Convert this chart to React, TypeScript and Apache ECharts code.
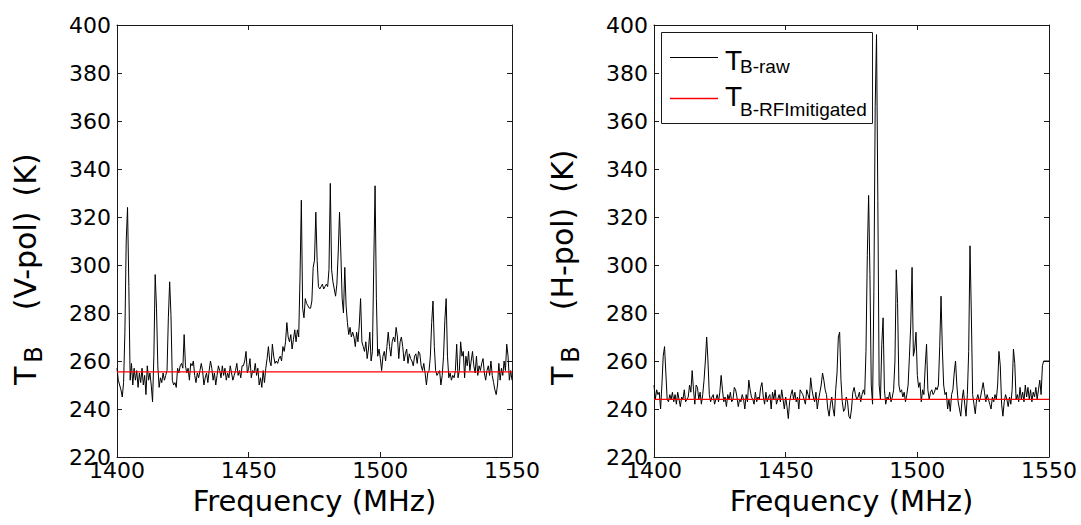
import React, { useEffect, useRef } from 'react';
import * as echarts from 'echarts';

const FREQ_START = 1400;
const FREQ_STEP = 0.5;
const X_MIN = 1400;
const X_MAX = 1550;
const X_INTERVAL = 50;
const Y_MIN = 220;
const Y_MAX = 400;
const Y_INTERVAL = 20;

// V-pol raw brightness temperature (K), 0.5 MHz steps from 1400 MHz
const vpolRaw = [
  257, 252, 250, 248, 245, 251, 272, 310, 324, 291,
  252, 259, 250, 257, 252, 256, 249, 255, 251, 257,
  250, 254, 246, 258, 252, 255, 250, 243, 262, 296,
  282, 258, 249, 253, 251, 255, 252, 254, 256, 278,
  293, 279, 252, 250, 251, 249, 257, 255, 258, 259,
  257, 271, 258, 255, 257, 252, 259, 258, 260, 254,
  251, 255, 253, 256, 259, 256, 250, 253, 255, 251,
  256, 260, 257, 252, 255, 250, 254, 258, 256, 253,
  258, 254, 257, 252, 255, 253, 258, 255, 252, 254,
  256, 259, 254, 256, 253, 258, 258, 260, 264, 255,
  257, 261, 253, 256, 255, 259, 254, 257, 250, 253,
  249, 256, 251, 257, 261, 266, 260, 258, 267, 262,
  259, 260, 259, 261, 262, 260, 266, 264, 268, 276,
  270, 268, 271, 265, 269, 273, 268, 273, 270, 295,
  327, 282, 278, 286, 284, 283, 282, 282, 285, 299,
  302, 322, 302, 291, 290, 291, 292, 290, 291, 292,
  291, 298, 334, 298, 293, 290, 287, 292, 305, 322,
  305, 286, 280, 299, 283, 276, 271, 274, 270, 272,
  270, 266, 272, 268, 275, 286, 268, 266, 264, 268,
  261, 265, 272, 260, 264, 300, 333, 286, 262, 265,
  261, 256, 262, 264, 260, 266, 272, 266, 262, 268,
  270, 268, 274, 270, 261, 268, 270, 266, 260, 263,
  265, 259, 263, 261, 260, 258, 262, 263, 259, 264,
  263, 258, 256, 259, 255, 250, 255, 256, 262, 276,
  285, 266, 256, 254, 255, 256, 250, 254, 262, 277,
  286, 262, 253, 255, 252, 254, 253, 256, 267, 253,
  256, 268, 262, 264, 253, 262, 258, 264, 256, 260,
  264, 258, 255, 262, 254, 258, 256, 259, 261, 255,
  252, 256, 258, 254, 260, 254, 251, 248, 246, 250,
  259, 252, 257, 254, 260, 256, 267, 262, 252, 256,
  252,
];

// H-pol raw brightness temperature (K), 0.5 MHz steps from 1400 MHz
const hpolRaw = [
  250, 244, 248, 246, 247, 240, 250, 262, 266, 255,
  244, 243, 246, 244, 247, 243, 246, 242, 247, 244,
  241, 245, 244, 248, 243, 244, 245, 250, 247, 256,
  248, 242, 250, 249, 244, 247, 242, 246, 252, 260,
  270, 260, 246, 243, 245, 246, 242, 244, 246, 243,
  247, 254, 248, 243, 245, 241, 246, 244, 247, 243,
  244, 249, 248, 245, 241, 244, 243, 246, 244, 240,
  246, 243, 252, 248, 245, 244, 242, 247, 243, 245,
  244, 249, 251, 245, 242, 247, 243, 245, 246, 240,
  247, 244, 248, 242, 244, 246, 243, 248, 244, 240,
  245, 241, 236, 243, 246, 248, 244, 247, 243, 245,
  240, 248, 247, 246, 244, 242, 248, 246, 244, 253,
  248, 245, 243, 247, 240, 244, 247, 250, 255, 252,
  248, 246, 240, 237, 242, 245, 240, 237, 248, 255,
  270, 272, 252, 243, 239, 240, 245, 243, 237, 236,
  240, 247, 249, 246, 244, 245, 247, 243, 246, 248,
  246, 264, 304, 329, 296, 250, 242, 289, 366, 396,
  327, 250, 244, 267, 278, 248, 242, 245, 244, 247,
  243, 245, 248, 260, 298, 284, 250, 247, 248, 245,
  247, 243, 246, 250, 262, 275, 299, 262, 265, 272,
  254, 249, 251, 243, 248, 246, 258, 267, 248, 244,
  247, 248, 246, 247, 249, 248, 250, 266, 287, 265,
  250, 246, 247, 240, 244, 239, 246, 248, 255, 260,
  250, 243, 240, 237, 244, 248, 242, 237, 246, 264,
  308, 280, 246, 242, 238, 244, 246, 243, 245, 248,
  251, 247, 243, 246, 244, 242, 240, 245, 243, 246,
  244, 250, 264, 258, 242, 237, 243, 246, 244, 241,
  245, 242, 248, 265, 259, 244, 246, 243, 249, 244,
  247, 243, 250, 245, 249, 244, 248, 243, 247, 245,
  249, 244, 248, 252, 246, 258, 260, 260, 260, 260,
  260,
];

const mitigatedFreqs = [1400, 1550];
const vpolMitigated = [255.5, 255.5];
const hpolMitigated = [244, 244];

const yTitlePol = ['(V-pol)', '(H-pol)'];
const yTitleUnit = '(K)';
const legendNames = ['B-raw', 'B-RFImitigated'];

const TICK_FONT = 'DejaVu Sans';
const LEG_FONT = 'Liberation Sans';
const AXIS_COLOR = '#1a1a1a';

function toPairs(vals: number[]) {
  return vals.map((v, i) => [FREQ_START + i * FREQ_STEP, v]);
}

function App() {
  const ref = useRef<HTMLDivElement>(null);
  useEffect(() => {
    if (!ref.current) return;
    const chart = echarts.init(ref.current, null, { renderer: 'svg' });
    const grids = [
      { left: 117, top: 25, width: 395, height: 432 },
      { left: 654, top: 25, width: 395, height: 432 },
    ];
    const xAxes: any[] = [];
    const yAxes: any[] = [];
    grids.forEach((_, gi) => {
      const common = {
        type: 'value',
        gridIndex: gi,
        min: X_MIN,
        max: X_MAX,
        interval: X_INTERVAL,
        splitLine: { show: false },
        axisLine: { show: true, onZero: false, lineStyle: { color: AXIS_COLOR, width: 1 } },
        axisTick: { show: true, inside: true, length: 5, lineStyle: { color: AXIS_COLOR } },
      };
      xAxes.push({
        ...common,
        position: 'bottom',
        axisLabel: {
          show: true,
          color: '#000',
          fontFamily: TICK_FONT,
          fontSize: 22,
          margin: 2,
          formatter: (v: number) => String(v),
        },
        name: 'Frequency (MHz)',
        nameLocation: 'middle',
        nameGap: 29,
        nameTextStyle: { color: '#000', fontFamily: TICK_FONT, fontSize: 29 },
      });
      xAxes.push({ ...common, position: 'top', axisLabel: { show: false } });
      const ycommon = {
        type: 'value',
        gridIndex: gi,
        min: Y_MIN,
        max: Y_MAX,
        interval: Y_INTERVAL,
        splitLine: { show: false },
        axisLine: { show: true, onZero: false, lineStyle: { color: AXIS_COLOR, width: 1 } },
        axisTick: { show: true, inside: true, length: 5, lineStyle: { color: AXIS_COLOR } },
      };
      yAxes.push({
        ...ycommon,
        position: 'left',
        axisLabel: {
          show: true,
          color: '#000',
          fontFamily: TICK_FONT,
          fontSize: 22,
          margin: 6,
          formatter: (v: number) => String(v),
        },
      });
      yAxes.push({ ...ycommon, position: 'right', axisLabel: { show: false } });
    });

    const rawSets = [vpolRaw, hpolRaw];
    const mitSets = [vpolMitigated, hpolMitigated];
    const series: any[] = [];
    rawSets.forEach((vals, gi) => {
      series.push({
        type: 'line',
        name: 'raw' + gi,
        xAxisIndex: gi * 2,
        yAxisIndex: gi * 2,
        data: toPairs(vals),
        showSymbol: false,
        symbol: 'none',
        lineStyle: { color: '#000', width: 1 },
        z: 2,
      });
      series.push({
        type: 'line',
        name: 'mit' + gi,
        xAxisIndex: gi * 2,
        yAxisIndex: gi * 2,
        data: mitigatedFreqs.map((f, i) => [f, mitSets[gi][i]]),
        showSymbol: false,
        symbol: 'none',
        lineStyle: { color: '#ff0000', width: 1.3 },
        z: 3,
      });
    });

    const yTitleGraphics = yTitlePol.map((pol, gi) => ({
      type: 'text',
      x: gi === 0 ? 25 : 562,
      y: 385,
      rotation: Math.PI / 2,
      style: {
        text: `{t|T}{s|B}{r|${pol}}{k|${yTitleUnit}}`,
        align: 'left',
        verticalAlign: 'middle',
        fill: '#000',
        rich: {
          t: { fontFamily: TICK_FONT, fontSize: 30, fill: '#000', color: '#000' },
          s: {
            fontFamily: TICK_FONT,
            fontSize: 24,
            padding: [18, 36, 0, 4],
            fill: '#000',
            color: '#000',
          },
          r: { fontFamily: TICK_FONT, fontSize: 30, fill: '#000', color: '#000' },
          k: {
            fontFamily: TICK_FONT,
            fontSize: 30,
            padding: [0, 0, 0, 15],
            fill: '#000',
            color: '#000',
          },
        },
      },
    }));

    const legendGraphics: any[] = [
      {
        type: 'rect',
        shape: { x: 661.5, y: 32.5, width: 211, height: 91 },
        style: { fill: '#fff', stroke: '#1a1a1a', lineWidth: 1 },
        z: 100,
      },
      {
        type: 'line',
        shape: { x1: 670, y1: 57.5, x2: 718, y2: 57.5 },
        style: { stroke: '#000', lineWidth: 1 },
        z: 101,
      },
      {
        type: 'line',
        shape: { x1: 670, y1: 98.5, x2: 718, y2: 98.5 },
        style: { stroke: '#ff0000', lineWidth: 1.3 },
        z: 101,
      },
    ];
    legendNames.forEach((nm, i) => {
      const cy = i === 0 ? 60 : 96;
      legendGraphics.push({
        type: 'text',
        x: 725,
        y: cy,
        style: { text: 'T', fontFamily: LEG_FONT, fontSize: 28, fill: '#000', align: 'left', verticalAlign: 'middle' },
        z: 101,
      });
      legendGraphics.push({
        type: 'text',
        x: 740,
        y: i === 0 ? 66 : 109,
        style: { text: nm, fontFamily: LEG_FONT, fontSize: 19, fill: '#000', align: 'left', verticalAlign: 'middle' },
        z: 101,
      });
    });

    chart.setOption({
      animation: false,
      backgroundColor: '#fff',
      grid: grids,
      xAxis: xAxes,
      yAxis: yAxes,
      series,
      graphic: [...yTitleGraphics, ...legendGraphics],
    });
    return () => chart.dispose();
  }, []);
  return (
    <div
      ref={ref}
      style={{ width: 1081, height: 525, position: 'absolute', left: 0, top: 0 }}
    />
  );
}

export default App;
